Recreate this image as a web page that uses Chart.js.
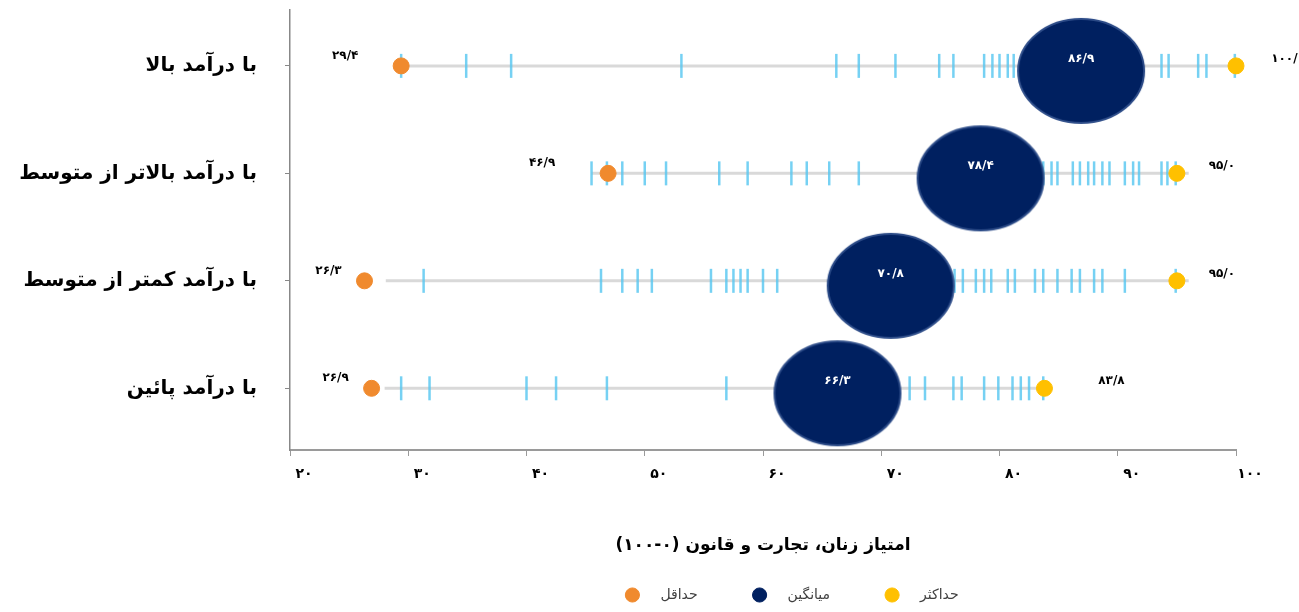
<!DOCTYPE html>
<html lang="fa">
<head>
<meta charset="utf-8">
<script src="https://cdn.jsdelivr.net/npm/chart.js@4.4.1/dist/chart.umd.min.js"></script>
<style>
  html, body { margin: 0; padding: 0; background: #fff; }
  #wrap { width: 1299px; height: 612px; }
</style>
</head>
<body>
<div id="wrap"><canvas id="chart" dir="rtl"></canvas></div>
<script>
// income groups, top to bottom
const categories = ['با درآمد بالا', 'با درآمد بالاتر از متوسط', 'با درآمد کمتر از متوسط', 'با درآمد پائین'];
const minValues = [29.4, 46.9, 26.3, 26.9];
const meanValues = [86.9, 78.4, 70.8, 66.3];
const maxValues = [100.0, 95.0, 95.0, 83.8];
// extent of the grey bar behind each row
const rangeStart = [29.4, 45.5, 28.1, 28.0];
const rangeEnd = [100.0, 96.0, 96.0, 84.5];
// one blue stroke per country
const countryScores = [
  [29.4, 34.9, 38.7, 53.1, 66.2, 68.1, 71.2, 74.9, 76.1, 78.7, 79.4, 80.0, 80.7, 81.2, 93.7, 94.3, 96.8, 97.5, 99.9],
  [45.5, 46.8, 48.1, 50.0, 51.8, 56.3, 58.7, 62.4, 63.7, 65.6, 68.1, 83.7, 84.4, 84.9, 86.2, 86.8, 87.5, 88.0, 88.7, 89.3, 90.6, 91.3, 91.8, 93.7, 94.2, 94.9],
  [31.3, 46.3, 48.1, 49.4, 50.6, 55.6, 56.9, 57.5, 58.1, 58.7, 60.0, 61.2, 74.9, 75.6, 76.2, 76.9, 78.0, 78.7, 79.3, 80.7, 81.3, 83.0, 83.7, 84.9, 86.1, 86.8, 88.0, 88.7, 90.6, 94.9],
  [29.4, 31.8, 40.0, 42.5, 46.8, 56.9, 72.4, 73.7, 76.1, 76.8, 78.7, 79.9, 81.1, 81.8, 82.5, 83.7]
];
const xTicks = [20, 30, 40, 50, 60, 70, 80, 90, 100];
const axisTitle = 'امتیاز زنان، تجارت و قانون (۰-۱۰۰)';
const legendNames = ['حداقل', 'میانگین', 'حداکثر'];

// label nudges (px) as placed in the original
const minShift = [-56, -66, -36, -36];
const maxShift = [52, 45, 45, 67];

const faDigits = '۰۱۲۳۴۵۶۷۸۹';
function toFa(s) {
  return String(s).replace(/[0-9]/g, d => faDigits[d]);
}
function fmt(v) {
  return toFa(v.toFixed(1)).replace('.', '/');
}

function makeEllipse(w, h, dy) {
  const c = document.createElement('canvas');
  c.width = w + 6;
  c.height = h + 6 + 2 * dy;
  const g = c.getContext('2d');
  g.beginPath();
  g.ellipse(c.width / 2, c.height / 2 + dy, w / 2, h / 2, 0, 0, Math.PI * 2);
  g.fillStyle = '#002060';
  g.fill();
  g.lineWidth = 2;
  g.strokeStyle = '#2d4c88';
  g.stroke();
  return c;
}

const valueLabels = {
  id: 'valueLabels',
  afterLayout(chart) {
    // the original legend sits right of centre
    chart.legend.left += 174;
    chart.legend.right += 174;
  },
  afterDatasetsDraw(chart) {
    const { ctx, scales: { x, y } } = chart;
    ctx.save();
    ctx.textBaseline = 'middle';
    ctx.textAlign = 'center';
    categories.forEach((c, i) => {
      const yy = y.getPixelForValue(i);
      ctx.font = 'bold 12px "DejaVu Sans"';
      ctx.fillStyle = '#000';
      ctx.fillText(fmt(minValues[i]), x.getPixelForValue(minValues[i]) + minShift[i], yy - 10);
      ctx.fillText(fmt(maxValues[i]), x.getPixelForValue(maxValues[i]) + maxShift[i], yy - 7);
      ctx.fillStyle = '#fff';
      ctx.fillText(fmt(meanValues[i]), x.getPixelForValue(meanValues[i]), yy - 7);
    });
    ctx.restore();
  }
};

Chart.defaults.font.family = '"DejaVu Sans", sans-serif';

const rangeSets = categories.map((c, i) => ({
  type: 'scatter',
  showLine: true,
  data: [{ x: rangeStart[i], y: i }, { x: rangeEnd[i], y: i }],
  borderColor: '#d9d9d9',
  borderWidth: 3,
  pointRadius: 0
}));

const legendRank = {};
legendNames.forEach((n, i) => legendRank[n] = i);

new Chart(document.getElementById('chart'), {
  type: 'scatter',
  data: {
    datasets: [
      {
        label: legendNames[1],
        data: meanValues.map((v, i) => ({ x: v, y: i })),
        backgroundColor: '#002060',
        borderColor: '#002060',
        pointStyle: makeEllipse(126, 104, 5),
        pointRadius: 10
      },
      {
        label: legendNames[2],
        data: maxValues.map((v, i) => ({ x: v, y: i })),
        backgroundColor: '#ffc000',
        borderColor: '#ffc000',
        pointRadius: 8
      },
      {
        label: legendNames[0],
        data: minValues.map((v, i) => ({ x: v, y: i })),
        backgroundColor: '#f08a2e',
        borderColor: '#f08a2e',
        pointRadius: 8
      },
      {
        data: countryScores.flatMap((row, i) => row.map(v => ({ x: v, y: i }))),
        pointStyle: 'line',
        rotation: 90,
        pointRadius: 12,
        borderWidth: 2.5,
        borderColor: 'rgba(84, 197, 240, 0.8)'
      },
      ...rangeSets
    ]
  },
  options: {
    responsive: true,
    maintainAspectRatio: false,
    animation: false,
    clip: false,
    layout: { autoPadding: false, padding: { top: 10, right: 63, left: 0, bottom: 0 } },
    scales: {
      x: {
        type: 'linear',
        min: 20,
        max: 100,
        afterBuildTicks: a => { a.ticks = xTicks.map(v => ({ value: v })); },
        afterFit: a => { a.height = 83; a.paddingLeft = 0; a.paddingRight = 0; },
        grid: { drawOnChartArea: false, tickLength: 6, color: '#9a9a9a' },
        border: { color: '#9a9a9a', width: 2 },
        ticks: {
          callback: v => toFa(v),
          font: { size: 14, weight: 'bold' },
          color: '#000',
          padding: 10,
          labelOffset: 14,
          maxRotation: 0
        },
        title: {
          display: true,
          text: axisTitle,
          font: { size: 17, weight: 'bold' },
          color: '#000',
          padding: { top: 0, bottom: -23 }
        }
      },
      y: {
        type: 'linear',
        reverse: true,
        min: -0.52,
        max: 3.574,
        afterBuildTicks: a => { a.ticks = categories.map((c, i) => ({ value: i })); },
        afterFit: a => { a.width = 290; a.paddingTop = 0; a.paddingBottom = 0; },
        grid: { drawOnChartArea: false, tickLength: 5, color: '#888' },
        border: { color: '#888', width: 1.5 },
        ticks: {
          callback: v => categories[v],
          font: { size: 20, weight: 'bold' },
          color: '#000',
          padding: 28
        }
      }
    },
    plugins: {
      tooltip: { enabled: false },
      legend: {
        position: 'bottom',
        textDirection: 'rtl',
        labels: {
          usePointStyle: true,
          pointStyle: 'circle',
          boxHeight: 10,
          padding: 55,
          color: '#404040',
          font: { size: 14 },
          generateLabels: chart => Chart.defaults.plugins.legend.labels.generateLabels(chart)
            .filter(item => legendRank[item.text] !== undefined)
            .map(item => Object.assign(item, { text: item.text + '\u2002\u2002' })),
          sort: (a, b) => legendRank[a.text.trim()] - legendRank[b.text.trim()]
        }
      }
    }
  },
  plugins: [valueLabels]
});
</script>
</body>
</html>
